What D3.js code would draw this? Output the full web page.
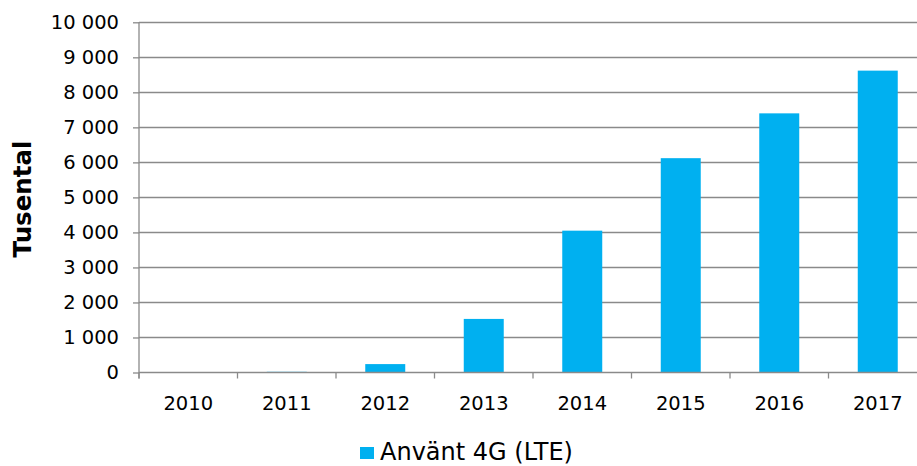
<!DOCTYPE html>
<html>
<head>
<meta charset="utf-8">
<script src="https://cdn.jsdelivr.net/npm/d3@7"></script>
<style>
  body { margin: 0; background: #fff; }
  svg { display: block; }
  text { font-family: "DejaVu Sans", Verdana, sans-serif; fill: #000; }
</style>
</head>
<body>
<svg width="917" height="466"></svg>
<script>
// data (thousands)
var years = ["2010", "2011", "2012", "2013", "2014", "2015", "2016", "2017"];
var used4G = [0, 20, 240, 1530, 4050, 6120, 7400, 8620];
var yTicks = [0, 1000, 2000, 3000, 4000, 5000, 6000, 7000, 8000, 9000, 10000];
var seriesName = "Använt 4G (LTE)";
var yTitle = "Tusental";

var svg = d3.select("svg");
var plotLeft = 139, plotTop = 22.3, plotBottom = 372.5;
var step = 98.5;
var plotRight = plotLeft + step * years.length;

var x = d3.scaleBand()
  .domain(years)
  .range([plotLeft, plotRight])
  .paddingInner(0.594)
  .paddingOuter(0.297);

var y = d3.scaleLinear().domain([0, 10000]).range([plotBottom, plotTop]);

var fmt = function(v) { return d3.format(",")(v).replace(/,/g, " "); };
var grey = "#8a8a8a";

// gridlines
svg.append("g").selectAll("line.grid")
  .data(yTicks.filter(d => d > 0))
  .enter()
  .append("line")
  .attr("class", "grid")
  .attr("x1", plotLeft).attr("x2", plotRight)
  .attr("y1", d => Math.round(y(d)) + 0.5)
  .attr("y2", d => Math.round(y(d)) + 0.5)
  .style("stroke", grey)
  .style("stroke-width", 1.3);

// bars
svg.append("g").selectAll("rect")
  .data(used4G)
  .enter()
  .append("rect")
  .attr("x", (d, i) => x(years[i]))
  .attr("width", x.bandwidth())
  .attr("y", d => y(d))
  .attr("height", d => plotBottom - y(d))
  .style("fill", "#00b0f0");

// y axis
var yAxis = svg.append("g")
  .attr("transform", "translate(" + plotLeft + ",0)")
  .call(d3.axisLeft(y).tickValues(yTicks).tickFormat(fmt).tickSize(6).tickPadding(14));
yAxis.select(".domain").attr("d", "M0," + plotTop + "V" + (plotBottom + 6));
yAxis.selectAll("line, path").style("stroke", grey).style("stroke-width", 1.3);
yAxis.selectAll("text")
  .style("font-size", "19.5px")
  .style("font-family", "DejaVu Sans, Verdana, sans-serif")
  .style("fill", "#000");

// x axis: ticks at category boundaries
var xg = svg.append("g");
xg.append("line")
  .attr("x1", plotLeft).attr("x2", plotRight)
  .attr("y1", plotBottom).attr("y2", plotBottom)
  .style("stroke", grey).style("stroke-width", 1.3);
xg.selectAll("line.tick")
  .data(years)
  .enter()
  .append("line")
  .attr("class", "tick")
  .attr("x1", (d, i) => plotLeft + i * step)
  .attr("x2", (d, i) => plotLeft + i * step)
  .attr("y1", plotBottom).attr("y2", plotBottom + 6)
  .style("stroke", grey).style("stroke-width", 1.3);
xg.selectAll("text")
  .data(years)
  .enter()
  .append("text")
  .attr("x", d => x(d) + x.bandwidth() / 2)
  .attr("y", 410)
  .attr("text-anchor", "middle")
  .style("font-size", "19.5px")
  .text(d => d);

// y title
svg.append("text")
  .attr("transform", "translate(31,199) rotate(-90)")
  .attr("text-anchor", "middle")
  .style("font-size", "24.5px")
  .style("font-weight", "bold")
  .text(yTitle);

// legend
var lg = svg.append("g");
lg.append("rect")
  .attr("x", 360).attr("y", 447)
  .attr("width", 14).attr("height", 12)
  .style("fill", "#00b0f0");
lg.append("text")
  .attr("x", 380).attr("y", 460)
  .style("font-size", "24px")
  .text(seriesName);
</script>
</body>
</html>
